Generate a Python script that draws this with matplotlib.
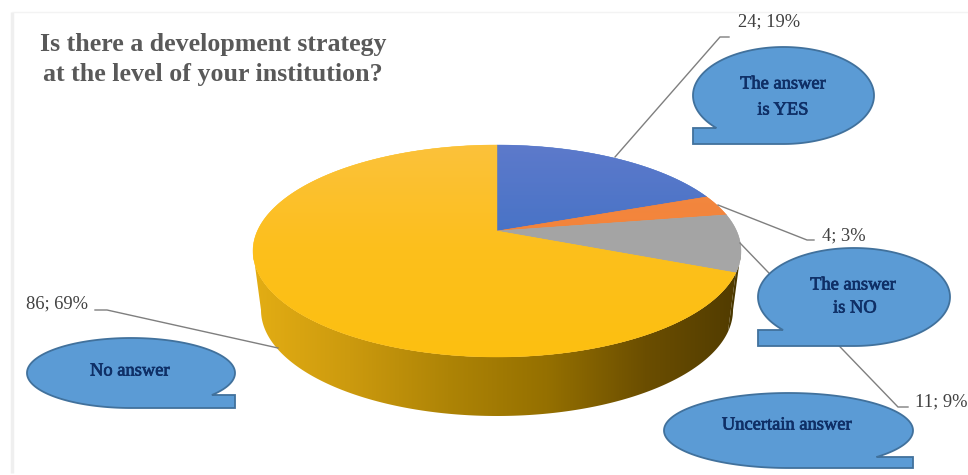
import numpy as np
import matplotlib
matplotlib.use("Agg")
import matplotlib.pyplot as plt
import matplotlib.patheffects as pe
from matplotlib.colors import LinearSegmentedColormap
from matplotlib.patches import Polygon

# Survey responses, in clockwise order from twelve o'clock
categories = ["The answer is YES", "The answer is NO", "Uncertain answer", "No answer"]
counts = [24, 4, 11, 86]
percents = [19, 3, 9, 69]
slice_colors = ["#4A72C8", "#F4813A", "#A5A5A5", "#FDBF1C"]
title_lines = ["Is there a development strategy", "at the level of your institution?"]

W, H = 968, 475
fig = plt.figure(figsize=(W / 100, H / 100), dpi=100)
ax = fig.add_axes([0, 0, 1, 1])
ax.set_xlim(0, W)
ax.set_ylim(H, 0)
ax.axis("off")

# Faint edge of the chart area: left and top only
ax.plot([11.5, 11.5], [12, 473], color="#EFEFEF", lw=2.5, zorder=0, solid_capstyle="butt")
ax.plot([11.5, W], [12, 12], color="#F3F3F3", lw=1.0, zorder=0, solid_capstyle="butt")

# Perspective disc: the pie centre sits above the centre of the visible ellipse
CX, CY = 497.0, 231.0
UP, DOWN = 86.0, 126.0
RX_TOP = 244.0
persp = (DOWN / UP - 1) / (DOWN / UP + 1)
amp = UP * (1 + persp)
kx = RX_TOP * np.sqrt(1 - persp ** 2)
# Rim angle offset at which the ellipse is widest, on either side
widest = np.arcsin(persp)


def disc_point(theta):
    """Screen position of a rim point; theta runs clockwise from twelve o'clock."""
    d = 1 + persp * np.cos(theta)
    return np.column_stack((CX + kx * np.sin(theta) / d, CY - amp * np.cos(theta) / d))


def lower_rim(theta):
    """Rim of the base, a slightly narrower copy of the top rim moved down."""
    p = disc_point(theta)
    p[:, 0] = CX + (p[:, 0] - CX) * 236.0 / RX_TOP
    p[:, 1] = p[:, 1] + 59.0
    return p


edges = 2 * np.pi * np.concatenate(([0], np.cumsum(counts))) / np.sum(counts)


def gradient_fill(patch, colors, box, horizontal=True, z=2):
    """Fill a clipping patch with a linear colour ramp."""
    cmap = LinearSegmentedColormap.from_list("ramp", colors)
    ramp = np.linspace(0, 1, 256)
    data = ramp[None, :] if horizontal else ramp[:, None]
    ax.add_patch(patch)
    im = ax.imshow(data, cmap=cmap, extent=box, aspect="auto", zorder=z, origin="upper")
    im.set_clip_path(patch)
    ax.set_xlim(0, W)
    ax.set_ylim(H, 0)


# Side wall: the yellow slice shaded left to right, then the sliver under the grey slice
t_side = np.linspace(edges[3], 1.5 * np.pi - widest, 300)
wall = np.vstack((disc_point(t_side), lower_rim(t_side)[::-1]))
gradient_fill(
    Polygon(wall, closed=True, fc="none", ec="none", zorder=1),
    ["#E4AE14", "#CC9A0E", "#AE8406", "#957000", "#6B4E00", "#4F3A00"],
    (250, 745, 420, 140),
)
t_grey = np.linspace(np.pi / 2 + widest, edges[3], 40)
ax.add_patch(Polygon(np.vstack((disc_point(t_grey), lower_rim(t_grey)[::-1])),
                     closed=True, fc="#4A3800", ec="none", zorder=1))

# Top faces of the slices
top_colors = [
    ["#5E7ACB", "#4472C6", "#3A6FD6"],
    ["#F08A45", "#F97C2C"],
    ["#A0A0A0", "#ABABAB"],
    ["#FBC23C", "#FDBF1C", "#FCC010"],
]
for i, face in enumerate(slice_colors):
    t = np.linspace(edges[i], edges[i + 1], 240)
    pts = np.vstack(([[CX, CY]], disc_point(t)))
    gradient_fill(
        Polygon(pts, closed=True, fc=face, ec=face, lw=0.3, zorder=2),
        top_colors[i],
        (245, 745, 360, 140),
        horizontal=False,
        z=2,
    )

# Leader lines from the slices to their labels
leader_paths = [
    [(615, 157), (720, 37), (729, 37)],
    [(718, 205), (807, 240), (814, 240)],
    [(740, 243), (898, 407), (908, 407)],
    [(278, 348), (107, 310), (95, 310)],
]
for path in leader_paths:
    xs, ys = zip(*path)
    ax.plot(xs, ys, color="#7F7F7F", lw=1.0, zorder=3, solid_joinstyle="miter")

# Count and share labels
label_spots = [(738, 22), (822, 236), (915, 402), (26, 304)]
for (x, y), n, p in zip(label_spots, counts, percents):
    ax.text(x, y, f"{n}; {p}%", family="Liberation Serif", fontsize=13.3,
            color="#404040", ha="left", va="center", zorder=6)


def callout(x0, x1, y0, y1, tail_top, side):
    """Elliptical speech bubble with a square tail on its lower left or right."""
    cx, cy, rx, ry = (x0 + x1) / 2, (y0 + y1) / 2, (x1 - x0) / 2, (y1 - y0) / 2
    phi = np.arcsin((tail_top - cy) / ry)
    if side == "left":
        a = np.linspace(np.pi - phi, 2.5 * np.pi, 200)
        corner = x0
    else:
        a = np.linspace(phi, np.pi / 2 - 2 * np.pi, 200)
        corner = x1
    arc = np.column_stack((cx + rx * np.cos(a), cy + ry * np.sin(a)))
    pts = np.vstack(([[corner, tail_top]], arc, [[corner, y1]]))
    ax.add_patch(Polygon(pts, closed=True, fc="#5B9BD5", ec="#41719C", lw=1.3, zorder=4))


callout(693, 874, 47, 144, 128, "left")
callout(758, 950, 248, 346, 330, "left")
callout(664, 913, 393, 468, 457, "right")
callout(27, 235, 338, 408, 395, "right")

bubble_text = [
    ("The answer", 783, 84), ("is YES", 783, 110),
    ("The answer", 853, 285), ("is NO", 855, 308),
    ("Uncertain answer", 787, 425), ("No answer", 130, 371),
]
heavier = [pe.withStroke(linewidth=0.5, foreground="#0F2F66")]
for s, x, y in bubble_text:
    ax.text(x, y, s, family="Liberation Serif", fontsize=13.3, color="#0F2F66",
            ha="center", va="center", zorder=6, path_effects=heavier)

# Two-line heading
for s, y in zip(title_lines, (45, 75)):
    ax.text(213, y, s, family="Liberation Serif", weight="bold", fontsize=18.6,
            color="#595959", ha="center", va="center", zorder=6)

fig.savefig("out.png", dpi=100)
